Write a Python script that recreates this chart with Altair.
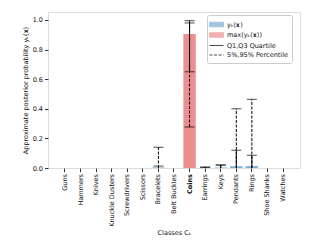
import altair as alt
import pandas as pd

classes = ["Guns", "Hammers", "Knives", "Knuckle Dusters", "Screwdrivers", "Scissors",
           "Bracelets", "Belt Buckles", "Coins", "Earrings", "Keys", "Pendants",
           "Rings", "Shoe Shanks", "Watches"]
mean_vals = [0.0, 0.0, 0.0, 0.0, 0.0, 0.0, 0.004, 0.0, 0.0, 0.001, 0.003, 0.012, 0.013, 0.0, 0.0]
max_vals = [0.0, 0.0, 0.0, 0.0, 0.0, 0.0, 0.0, 0.0, 0.905, 0.0, 0.0, 0.0, 0.0, 0.0, 0.0]
q1 = [0.0, 0.0, 0.0, 0.0, 0.0, 0.0, 0.0, 0.0, 0.65, 0.0, 0.0, 0.0, 0.0, 0.0, 0.0]
q3 = [0.0, 0.0, 0.0, 0.0, 0.0, 0.0, 0.013, 0.0, 0.98, 0.005, 0.02, 0.12, 0.086, 0.0, 0.0]
p5 = [0.0, 0.0, 0.0, 0.0, 0.0, 0.0, 0.0, 0.0, 0.277, 0.0, 0.0, 0.0, 0.0, 0.0, 0.0]
p95 = [0.0, 0.0, 0.0, 0.0, 0.0, 0.0, 0.14, 0.0, 0.995, 0.006, 0.02, 0.40, 0.464, 0.0, 0.0]
y_ticks = [0.0, 0.2, 0.4, 0.6, 0.8, 1.0]

L_MEAN = "yₖ(𝐱)"
L_MAX = "max(yₖ(𝐱))"
L_Q = "Q1,Q3 Quartile"
L_P = "5%,95% Percentile"
legend_domain = [L_MEAN, L_MAX, L_Q, L_P]
legend_range = ["#7bafd4", "#eb9090", "#000000", "#000000"]

bars = pd.DataFrame(
    [{"cls": c, "series": L_MEAN, "v": m} for c, m in zip(classes, mean_vals)]
    + [{"cls": c, "series": L_MAX, "v": m} for c, m in zip(classes, max_vals) if m > 0]
)
stats = pd.DataFrame({"cls": classes, "q1": q1, "q3": q3, "p5": p5, "p95": p95})

FONT = "DejaVu Sans"
FS = 6.5
Y_TITLE = "Approximate posterior probability yₖ(𝐱)"

IS_PATCH = "(datum.value == '%s' || datum.value == '%s')" % (L_MEAN, L_MAX)

xaxis = alt.Axis(labelAngle=-90, labelFontSize=FS, titleFontSize=FS,
                 tickSize=3.5, tickColor="#333", labelPadding=2,
                 titlePadding=3, domain=False, labelColor="#111",
                 labelOverlap=False,
                 labelFontWeight={"condition": {"test": "datum.value == 'Coins'", "value": "bold"}, "value": "normal"})
xscale = alt.Scale(paddingInner=0.2, paddingOuter=0.69)
xs = alt.X("cls:N", sort=classes, title="Classes Cₖ", scale=xscale, axis=xaxis)

yscale = alt.Scale(domain=[0, 1.054], nice=False, zero=True)
yaxis = alt.Axis(values=y_ticks, format=".1f", labelFontSize=FS,
                 titleFontSize=FS, tickSize=3.5, tickColor="#333", grid=False,
                 domain=False, labelPadding=2, titlePadding=4, labelColor="#111",
                 labelOverlap=False, labelFlush=False)


def yq(field):
    return alt.Y(field + ":Q", scale=yscale, axis=yaxis, title=Y_TITLE)


color = alt.Color("series:N", scale=alt.Scale(domain=legend_domain, range=legend_range),
                  legend=alt.Legend(
                      title=None, orient="none", legendX=159, legendY=3,
                      labelFontSize=FS, labelFont=FONT, labelColor="#111111",
                      symbolSize=100,
                      rowPadding=0.5, labelOffset=5, padding=4,
                      fillColor="white", strokeColor="#cccccc", cornerRadius=2,
                      symbolType=alt.ExprRef(IS_PATCH + " ? 'M-1.4,-0.45H1.4V0.45H-1.4Z' : 'M-1.4,0H1.4'"),
                      symbolStrokeColor=alt.ExprRef(IS_PATCH + " ? 'transparent' : '#000000'"),
                      symbolFillColor=alt.ExprRef(IS_PATCH + " ? (datum.value == '%s' ? '#7bafd4' : '#eb9090') : 'transparent'" % L_MEAN),
                      symbolDash=alt.ExprRef("datum.value == '%s' ? [3, 1.5] : [100, 0]" % L_P),
                      symbolStrokeWidth=1, symbolOpacity=1))

bar_layer = alt.Chart(bars).mark_bar(opacity=1).encode(
    x=xs, y=yq("v"), color=color,
    order=alt.Order("series:N", sort="descending"),
)

base = alt.Chart(stats)
dash_rule = base.mark_rule(strokeDash=[3, 1.5], strokeWidth=1).encode(
    x=xs, y=yq("p5"), y2="p95:Q", color=alt.datum(L_P))
# caps lying on the zero line are hidden beneath the axis spine in the reference
dash_cap_lo = base.transform_filter("datum.p5 > 0").mark_tick(size=10, thickness=1).encode(
    x=xs, y=yq("p5"), color=alt.datum(L_P))
dash_cap_hi = base.transform_filter("datum.p95 > 0").mark_tick(size=10, thickness=1).encode(
    x=xs, y=yq("p95"), color=alt.datum(L_P))
solid_rule = base.mark_rule(strokeWidth=1).encode(
    x=xs, y=yq("q1"), y2="q3:Q", color=alt.datum(L_Q))
solid_cap_lo = base.transform_filter("datum.q1 > 0").mark_tick(size=10, thickness=1).encode(
    x=xs, y=yq("q1"), color=alt.datum(L_Q))
solid_cap_hi = base.transform_filter("datum.q3 > 0").mark_tick(size=10, thickness=1).encode(
    x=xs, y=yq("q3"), color=alt.datum(L_Q))

chart = alt.layer(bar_layer, dash_rule, dash_cap_lo, dash_cap_hi,
                  solid_rule, solid_cap_lo, solid_cap_hi).properties(
    width=252, height=156,
    autosize=alt.AutoSizeParams(type="none"),
    padding={"left": 40, "top": 4, "right": 12, "bottom": 68},
).configure_view(stroke="#888888", strokeWidth=1).configure(
    font=FONT
).configure_axis(labelFont=FONT, titleFont=FONT, titleFontWeight="normal",
                 titleColor="#111", labelOverlap=False)

chart.save("out.html", embed_options={"renderer": "svg", "actions": False})
